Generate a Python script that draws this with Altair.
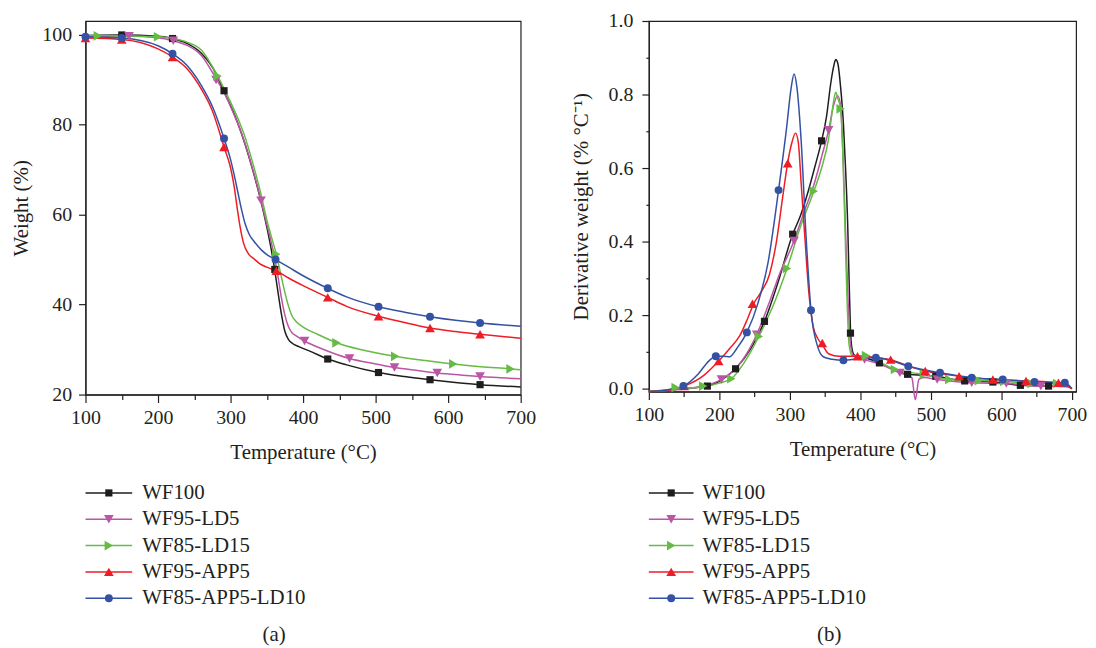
import altair as alt
import pandas as pd

SERIES = ["WF100", "WF95-LD5", "WF85-LD15", "WF95-APP5", "WF85-APP5-LD10"]
COLORS = ["#1e1e1e", "#bb55a6", "#66bb44", "#ee1c25", "#3352a3"]
SHAPES = ["square", "triangle-down", "triangle-right", "triangle-up", "circle"]
SIZES = [52, 95, 95, 95, 64]

# ---------- (a) TGA curves ----------
TGA_T_WF100 = [100,150,200,220,240,260,280,290,300,310,320,330,340,350,355,360,365,370,375,380,385,395,410,434,460,504,540,575,610,644,700]
TGA_W_WF100 = [99.8,99.9,99.6,99.1,98.0,95.8,91.3,87.6,84.2,80.3,75.6,70.2,64.2,57.2,53.2,48.6,43.2,38.0,34.0,32.2,31.4,30.6,29.6,27.9,26.6,24.9,24.0,23.3,22.7,22.2,21.7]
TGA_T_LD5 = [100,160,200,221,240,260,280,290,300,310,320,330,342,350,355,360,365,370,375,380,385,390,402,430,464,500,526,560,585,620,644,700]
TGA_W_LD5 = [99.5,99.6,99.3,98.6,97.6,95.3,90.2,87.4,84.0,80.2,75.8,70.4,63.1,57.8,54.6,51.0,46.6,41.6,37.6,35.0,33.7,33.1,31.9,29.9,28.0,26.8,26.0,25.3,24.8,24.3,24.0,23.5]
TGA_T_LD15 = [100,117,200,220,240,260,282,290,300,310,320,330,342,350,355,363,370,375,380,385,390,400,420,446,485,527,565,607,645,686,700]
TGA_W_LD15 = [99.7,99.7,99.5,99.1,98.3,96.5,90.8,88.3,85.0,81.4,77.2,71.8,64.5,58.8,55.8,51.2,46.2,42.6,39.6,37.4,36.3,35.0,33.4,31.5,29.8,28.5,27.6,26.8,26.2,25.7,25.5]
TGA_T_APP5 = [100,150,200,220,240,260,275,291,300,305,309,313,318,325,332,340,350,363,380,400,434,460,504,540,575,610,644,700]
TGA_W_APP5 = [99.2,98.9,96.8,95.0,92.4,87.8,83.0,75.0,70.4,66.2,61.6,57.4,53.6,51.2,50.2,49.1,48.3,47.5,45.9,44.2,41.6,39.6,37.4,36.0,34.8,34.0,33.4,32.5]
TGA_T_APP5LD10 = [100,150,200,220,240,260,275,291,300,305,310,315,320,326,333,342,350,362,380,400,434,460,504,540,575,610,644,700]
TGA_W_APP5LD10 = [99.5,99.2,97.5,95.7,93.1,88.6,84.0,76.9,72.2,68.8,65.0,61.2,58.0,55.5,53.9,52.2,51.1,50.0,48.3,46.4,43.6,41.7,39.5,38.3,37.3,36.5,35.9,35.2]

# markers (a)
TGA_MT_WF100 = [150,220,291,361,434,504,575,644]
TGA_MW_WF100 = [99.9,99.1,87.5,47.8,27.9,24.9,23.3,22.2]
TGA_MT_LD5 = [160,221,280,342,402,464,526,585,644]
TGA_MW_LD5 = [99.6,98.6,89.9,63.1,31.9,28.0,26.0,24.8,24.0]
TGA_MT_LD15 = [117,200,282,363,446,527,607,686]
TGA_MW_LD15 = [99.7,99.5,90.8,51.2,31.5,28.5,26.8,25.7]
TGA_MT_APP5 = [100,150,220,291,363,434,504,575,644]
TGA_MW_APP5 = [99.2,98.9,95.0,75.0,47.5,41.6,37.4,34.8,33.4]
TGA_MT_APP5LD10 = [100,150,220,291,362,434,504,575,644]
TGA_MW_APP5LD10 = [99.5,99.2,95.7,76.9,50.0,43.6,39.5,37.3,35.9]

# ---------- (b) DTG curves ----------
DTG_T_WF100 = [100,120,140,160,183,200,223,245,264,283,304,315,325,335,345,352,358,362,365,368,372,376,379,382,384,386,388,391,395,410,427,450,467,507,548,588,627,667,695,700]
DTG_D_WF100 = [-0.008,-0.006,-0.002,0.002,0.007,0.02,0.054,0.11,0.183,0.288,0.42,0.47,0.53,0.6,0.674,0.74,0.83,0.875,0.895,0.885,0.82,0.72,0.6,0.45,0.3,0.16,0.11,0.092,0.088,0.082,0.07,0.05,0.039,0.034,0.021,0.018,0.009,0.007,0.006,0.0]
DTG_T_LD5 = [100,140,180,203,230,253,270,285,306,320,335,345,355,362,368,372,376,379,383,386,390,406,430,456,468,473,478,483,490,509,558,607,656,695,700]
DTG_D_LD5 = [-0.008,-0.003,0.008,0.025,0.07,0.147,0.23,0.31,0.402,0.48,0.56,0.63,0.703,0.77,0.797,0.77,0.6,0.43,0.22,0.12,0.09,0.079,0.065,0.043,0.035,0.03,-0.03,0.025,0.03,0.025,0.016,0.014,0.007,0.006,0.0]
DTG_T_LD15 = [100,138,177,200,217,235,256,275,296,315,334,345,355,362,365,368,372,375,378,381,384,388,395,408,430,449,490,526,568,604,643,679,700]
DTG_D_LD15 = [-0.008,0.0,0.005,0.015,0.027,0.07,0.142,0.22,0.327,0.44,0.537,0.6,0.68,0.78,0.806,0.79,0.76,0.65,0.45,0.25,0.12,0.09,0.088,0.09,0.07,0.052,0.039,0.025,0.022,0.02,0.014,0.014,0.0]
DTG_T_APP5 = [100,130,150,178,199,215,229,240,249,260,271,281,290,297,303,308,312,316,321,327,333,340,346,355,370,396,420,443,470,492,540,588,635,681,700]
DTG_D_APP5 = [-0.008,-0.003,0.007,0.036,0.075,0.11,0.144,0.19,0.232,0.265,0.31,0.4,0.523,0.615,0.67,0.695,0.67,0.56,0.42,0.26,0.17,0.135,0.12,0.095,0.088,0.088,0.085,0.079,0.06,0.048,0.034,0.025,0.021,0.016,0.0]
DTG_T_APP5LD10 = [100,130,149,170,185,195,205,215,225,239,255,269,284,295,302,306,310,316,323,330,339,348,360,376,400,422,445,468,513,558,602,647,690,700]
DTG_D_APP5LD10 = [-0.008,-0.002,0.007,0.04,0.075,0.088,0.088,0.087,0.11,0.153,0.234,0.342,0.54,0.703,0.82,0.856,0.82,0.676,0.414,0.213,0.117,0.086,0.08,0.077,0.082,0.084,0.075,0.061,0.043,0.030,0.025,0.018,0.016,0.0]

# markers (b)
DTG_MT_WF100 = [183,223,264,304,345,386,427,467,507,548,588,627,667]
DTG_MD_WF100 = [0.007,0.054,0.183,0.42,0.674,0.151,0.07,0.039,0.034,0.021,0.018,0.009,0.007]
DTG_MT_LD5 = [203,253,306,355,406,456,509,558,607,656]
DTG_MD_LD5 = [0.025,0.147,0.402,0.703,0.079,0.043,0.025,0.016,0.014,0.007]
DTG_MT_LD15 = [138,177,217,256,296,334,372,408,449,490,526,568,604,643,679]
DTG_MD_LD15 = [0.003,0.007,0.027,0.142,0.327,0.537,0.761,0.09,0.052,0.039,0.025,0.022,0.02,0.014,0.014]
DTG_MT_APP5 = [150,199,247,297,346,396,443,492,540,588,635,681]
DTG_MD_APP5 = [0.007,0.075,0.231,0.613,0.124,0.088,0.079,0.048,0.034,0.025,0.021,0.016]
DTG_MT_APP5LD10 = [149,195,239,284,330,376,422,468,513,558,602,647,690]
DTG_MD_APP5LD10 = [0.007,0.088,0.153,0.54,0.213,0.077,0.084,0.061,0.043,0.030,0.025,0.018,0.016]

FONT = "Liberation Serif"
INK = "#231f20"


def long_df(pairs, vname):
    rows = []
    for name, ts, vs in pairs:
        for t, v in zip(ts, vs):
            rows.append({"series": name, "T": t, vname: v})
    return pd.DataFrame(rows)


tga_lines = long_df([
    (SERIES[0], TGA_T_WF100, TGA_W_WF100), (SERIES[1], TGA_T_LD5, TGA_W_LD5),
    (SERIES[2], TGA_T_LD15, TGA_W_LD15), (SERIES[3], TGA_T_APP5, TGA_W_APP5),
    (SERIES[4], TGA_T_APP5LD10, TGA_W_APP5LD10)], "v")
tga_marks = long_df([
    (SERIES[0], TGA_MT_WF100, TGA_MW_WF100), (SERIES[1], TGA_MT_LD5, TGA_MW_LD5),
    (SERIES[2], TGA_MT_LD15, TGA_MW_LD15), (SERIES[3], TGA_MT_APP5, TGA_MW_APP5),
    (SERIES[4], TGA_MT_APP5LD10, TGA_MW_APP5LD10)], "v")
dtg_lines = long_df([
    (SERIES[0], DTG_T_WF100, DTG_D_WF100), (SERIES[1], DTG_T_LD5, DTG_D_LD5),
    (SERIES[2], DTG_T_LD15, DTG_D_LD15), (SERIES[3], DTG_T_APP5, DTG_D_APP5),
    (SERIES[4], DTG_T_APP5LD10, DTG_D_APP5LD10)], "v")
dtg_marks = long_df([
    (SERIES[0], DTG_MT_WF100, DTG_MD_WF100), (SERIES[1], DTG_MT_LD5, DTG_MD_LD5),
    (SERIES[2], DTG_MT_LD15, DTG_MD_LD15), (SERIES[3], DTG_MT_APP5, DTG_MD_APP5),
    (SERIES[4], DTG_MT_APP5LD10, DTG_MD_APP5LD10)], "v")

color_enc = alt.Color("series:N", scale=alt.Scale(domain=SERIES, range=COLORS), legend=None)


def x_enc(xmax):
    return alt.X(
        "T:Q",
        scale=alt.Scale(domain=[100, xmax], nice=False, zero=False),
        axis=alt.Axis(
            title="Temperature (°C)",
            values=list(range(100, 701, 50)),
            labelExpr="datum.value % 100 === 0 ? datum.label : ''",
            tickSize={"condition": {"test": "datum.value % 100 === 0", "value": 8}, "value": 5},
            labelFlush=False,
            labelPadding=5,
            titlePadding=14,
        ),
    )


def panel(lines, marks, xenc, yenc, w, h):
    layers = [alt.Chart(lines).mark_line(interpolate="monotone", strokeWidth=1.5, clip=False).encode(
        x=xenc, y=yenc, color=color_enc, detail="series:N")]
    for name, shape, size, col in zip(SERIES, SHAPES, SIZES, COLORS):
        layers.append(
            alt.Chart(marks[marks["series"] == name]).mark_point(
                filled=True, opacity=1, strokeWidth=0, shape=shape, size=size, color=col
            ).encode(x=xenc, y=yenc)
        )
    return alt.layer(*layers).properties(width=w, height=h)


ya = alt.Y("v:Q", scale=alt.Scale(domain=[20, 103], nice=False, zero=False),
           axis=alt.Axis(title="Weight (%)", values=[20, 40, 60, 80, 100], tickSize=7,
                         labelPadding=7, titlePadding=10))
yb = alt.Y("v:Q", scale=alt.Scale(domain=[-0.008, 1.0], nice=False, zero=False),
           axis=alt.Axis(title="Derivative weight (% °C⁻¹)",
                         values=[round(i * 0.1, 1) for i in range(11)],
                         format=".1f",
                         labelExpr="round(datum.value * 10) % 2 === 0 ? datum.label : ''",
                         tickSize={"condition": {"test": "round(datum.value * 10) % 2 === 0", "value": 7}, "value": 3},
                         labelPadding=9, titlePadding=17))

plot_a = panel(tga_lines, tga_marks, x_enc(700), ya, 438, 376)
plot_b = panel(dtg_lines, dtg_marks, x_enc(706), yb, 430, 373)

legend_df = pd.DataFrame({"series": SERIES})


def legend(caption, line_len, text_x, dx):
    yl = alt.Y("series:N", sort=SERIES,
               scale=alt.Scale(type="point", range=[0, 106], padding=0), axis=None)
    base = alt.Chart(legend_df)
    layers = [base.mark_rule(strokeWidth=1.5).encode(
        x=alt.value(0), x2=alt.value(line_len), y=yl, color=color_enc)]
    for name, shape, size, col in zip(SERIES, SHAPES, SIZES, COLORS):
        layers.append(
            alt.Chart(legend_df[legend_df["series"] == name]).mark_point(
                filled=True, opacity=1, strokeWidth=0, shape=shape, size=size, color=col
            ).encode(x=alt.value(line_len / 2), y=yl)
        )
    layers.append(base.mark_text(align="left", baseline="middle", font=FONT, fontSize=21, color=INK).encode(
        x=alt.value(text_x), y=yl, text="series:N"))
    return alt.layer(*layers).properties(
        width=300, height=106,
        view=alt.ViewBackground(stroke="transparent"),
        title=alt.TitleParams(caption, orient="bottom", anchor="start", dx=dx, offset=16,
                              font=FONT, fontSize=21, fontWeight="normal", color=INK),
    )


leg_a = legend("(a)", 47, 57, 179)
leg_b = legend("(b)", 45, 54, 170)

chart = alt.concat(plot_a, plot_b, leg_a, leg_b, columns=2).properties(
    bounds="flush", spacing={"row": 99, "column": 129},
    padding={"left": 2, "top": 0, "right": 0, "bottom": 0},
).configure_view(
    stroke=INK, strokeWidth=1.2
).configure_axis(
    grid=False, domainColor=INK, tickColor=INK, domainWidth=1.2, tickWidth=1.2,
    labelFont=FONT, labelFontSize=20, labelColor=INK,
    titleFont=FONT, titleFontSize=21, titleFontWeight="normal", titleColor=INK,
)

chart.save("out.html", embed_options={"renderer": "svg", "actions": False})
